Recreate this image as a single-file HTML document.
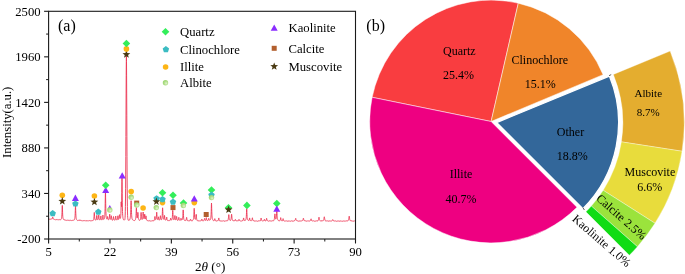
<!DOCTYPE html>
<html><head><meta charset="utf-8"><title>XRD</title>
<style>
html,body{margin:0;padding:0;background:#fff;}
body{width:685px;height:274px;overflow:hidden;font-family:"Liberation Serif",serif;}
svg{display:block;will-change:transform;transform:translateZ(0);}
text{font-family:"Liberation Serif",serif;fill:#000;}
</style></head><body>
<svg width="685" height="274" viewBox="0 0 685 274">
<rect width="685" height="274" fill="#fff"/>

<path d="M491.10,121.50 L372.14,97.30 A121.4,121.4 0 0 1 518.29,3.18 Z" fill="#f93d40" stroke="#fff" stroke-width="0.5" stroke-linejoin="round"/>
<path d="M491.10,121.50 L518.29,3.18 A121.4,121.4 0 0 1 603.10,74.65 Z" fill="#f0852a" stroke="#fff" stroke-width="0.5" stroke-linejoin="round"/>
<path d="M496.59,122.58 L609.39,76.09 A122.0,122.0 0 0 1 582.89,208.82 Z" fill="#33679a" stroke="#fff" stroke-width="1.3" stroke-linejoin="round"/>
<path d="M491.10,121.50 L576.97,207.31 A121.4,121.4 0 0 1 372.14,97.30 Z" fill="#ee0081" stroke="#fff" stroke-width="0.5" stroke-linejoin="round"/>
<path d="M613.36,74.45 L670.13,51.06 A187.7,187.7 0 0 1 682.09,151.24 L621.41,141.86 A126.3,126.3 0 0 0 613.36,74.45 Z" fill="#e4ad2f" stroke="#fff" stroke-width="0.35"/>
<path d="M621.41,141.86 L682.09,151.24 A187.7,187.7 0 0 1 655.01,223.26 L603.19,190.32 A126.3,126.3 0 0 0 621.41,141.86 Z" fill="#e8dc3c" stroke="#fff" stroke-width="0.35"/>
<path d="M603.19,190.32 L655.01,223.26 A187.7,187.7 0 0 1 637.40,246.70 L591.34,206.10 A126.3,126.3 0 0 0 603.19,190.32 Z" fill="#9be33c" stroke="#fff" stroke-width="0.35"/>
<path d="M591.34,206.10 L637.40,246.70 A187.7,187.7 0 0 1 629.36,255.26 L585.93,211.86 A126.3,126.3 0 0 0 591.34,206.10 Z" fill="#10dc14" stroke="#fff" stroke-width="0.35"/>
<path d="M609.0,75.7 L611.2,74.6 M582.9,207.6 L584.4,210.0" stroke="#3a3a3a" stroke-width="0.8" fill="none"/>
<text x="459.3" y="54.9" font-size="12" text-anchor="middle" >Quartz</text>
<text x="458.6" y="78.9" font-size="12" text-anchor="middle" >25.4%</text>
<text x="539.8" y="63.7" font-size="12" text-anchor="middle" >Clinochlore</text>
<text x="540.3" y="87.6" font-size="12" text-anchor="middle" >15.1%</text>
<text x="570.5" y="136.1" font-size="12" text-anchor="middle" >Other</text>
<text x="572.2" y="159.8" font-size="12" text-anchor="middle" >18.8%</text>
<text x="461" y="178" font-size="12" text-anchor="middle" >Illite</text>
<text x="461" y="202.5" font-size="12" text-anchor="middle" >40.7%</text>
<text x="648.3" y="96.8" font-size="11" text-anchor="middle" >Albite</text>
<text x="648.1" y="115.6" font-size="11" text-anchor="middle" >8.7%</text>
<text x="649.9" y="176.0" font-size="12" text-anchor="middle" >Muscovite</text>
<text x="649.8" y="190.8" font-size="12" text-anchor="middle" >6.6%</text>
<text font-size="12" text-anchor="middle" transform="translate(618.8,220) rotate(41.3)">Calcite 2.5%</text>
<text font-size="12" text-anchor="middle" transform="translate(599.0,243.8) rotate(40.8)">Kaolinite 1.0%</text>
<text x="366.3" y="31.2" font-size="16" text-anchor="start" >(b)</text>
<path d="M48.60,218.84 L48.70,218.77 L48.80,218.72 L48.90,218.77 L49.00,218.90 L49.10,219.06 L49.20,219.17 L49.30,219.20 L49.40,219.17 L49.50,219.15 L49.60,219.17 L49.70,219.22 L49.80,219.24 L49.90,219.20 L50.00,219.12 L50.10,219.06 L50.20,219.08 L50.30,219.17 L50.40,219.26 L50.50,219.30 L50.60,219.25 L50.70,219.14 L50.80,219.05 L50.90,219.01 L51.00,219.02 L51.10,219.01 L51.20,218.97 L51.30,218.89 L51.40,218.85 L51.50,218.90 L51.60,219.00 L51.70,219.11 L51.80,219.13 L51.90,219.05 L52.00,218.89 L52.10,218.72 L52.20,218.55 L52.30,218.34 L52.40,218.02 L52.50,217.57 L52.60,217.10 L52.70,216.89 L52.80,217.13 L52.90,217.67 L53.00,218.20 L53.10,218.57 L53.20,218.75 L53.30,218.81 L53.40,218.84 L53.50,218.91 L53.60,219.01 L53.70,219.09 L53.80,219.11 L53.90,219.11 L54.00,219.14 L54.10,219.23 L54.20,219.37 L54.30,219.50 L54.40,219.55 L54.50,219.51 L54.60,219.43 L54.70,219.40 L54.80,219.44 L54.90,219.54 L55.00,219.62 L55.10,219.65 L55.20,219.65 L55.30,219.65 L55.40,219.71 L55.50,219.81 L55.60,219.87 L55.70,219.84 L55.80,219.73 L55.90,219.58 L56.00,219.49 L56.10,219.49 L56.20,219.54 L56.30,219.58 L56.40,219.58 L56.50,219.55 L56.60,219.54 L56.70,219.59 L56.80,219.67 L56.90,219.74 L57.00,219.73 L57.10,219.65 L57.20,219.56 L57.30,219.54 L57.40,219.61 L57.50,219.73 L57.60,219.84 L57.70,219.88 L57.80,219.88 L57.90,219.89 L58.00,219.93 L58.10,219.99 L58.20,220.02 L58.30,219.97 L58.40,219.84 L58.50,219.71 L58.60,219.64 L58.70,219.67 L58.80,219.74 L58.90,219.79 L59.00,219.78 L59.10,219.73 L59.20,219.69 L59.30,219.69 L59.40,219.73 L59.50,219.74 L59.60,219.69 L59.70,219.60 L59.80,219.51 L59.90,219.50 L60.00,219.59 L60.10,219.72 L60.20,219.81 L60.30,219.83 L60.40,219.78 L60.50,219.73 L60.60,219.71 L60.70,219.70 L60.80,219.66 L60.90,219.53 L61.00,219.33 L61.10,219.12 L61.20,218.95 L61.30,218.83 L61.40,218.68 L61.50,218.39 L61.60,217.91 L61.70,217.18 L61.80,216.18 L61.90,214.78 L62.00,212.78 L62.10,210.01 L62.20,206.98 L62.30,205.46 L62.40,206.86 L62.50,209.90 L62.60,212.80 L62.70,214.98 L62.80,216.45 L62.90,217.40 L63.00,218.01 L63.10,218.43 L63.20,218.78 L63.30,219.07 L63.40,219.29 L63.50,219.41 L63.60,219.46 L63.70,219.51 L63.80,219.62 L63.90,219.77 L64.00,219.93 L64.10,220.00 L64.20,219.98 L64.30,219.89 L64.40,219.82 L64.50,219.80 L64.60,219.84 L64.70,219.86 L64.80,219.85 L64.90,219.82 L65.00,219.81 L65.10,219.89 L65.20,220.03 L65.30,220.17 L65.40,220.25 L65.50,220.23 L65.60,220.16 L65.70,220.12 L65.80,220.14 L65.90,220.21 L66.00,220.27 L66.10,220.28 L66.20,220.26 L66.30,220.25 L66.40,220.30 L66.50,220.40 L66.60,220.48 L66.70,220.47 L66.80,220.38 L66.90,220.24 L67.00,220.13 L67.10,220.10 L67.20,220.13 L67.30,220.16 L67.40,220.15 L67.50,220.11 L67.60,220.11 L67.70,220.16 L67.80,220.27 L67.90,220.36 L68.00,220.38 L68.10,220.32 L68.20,220.23 L68.30,220.19 L68.40,220.23 L68.50,220.32 L68.60,220.41 L68.70,220.45 L68.80,220.45 L68.90,220.45 L69.00,220.50 L69.10,220.58 L69.20,220.62 L69.30,220.59 L69.40,220.47 L69.50,220.32 L69.60,220.23 L69.70,220.23 L69.80,220.28 L69.90,220.33 L70.00,220.33 L70.10,220.29 L70.20,220.27 L70.30,220.29 L70.40,220.36 L70.50,220.40 L70.60,220.38 L70.70,220.30 L70.80,220.21 L70.90,220.19 L71.00,220.26 L71.10,220.39 L71.20,220.50 L71.30,220.55 L71.40,220.54 L71.50,220.53 L71.60,220.56 L71.70,220.61 L71.80,220.63 L71.90,220.57 L72.00,220.45 L72.10,220.32 L72.20,220.26 L72.30,220.30 L72.40,220.37 L72.50,220.42 L72.60,220.41 L72.70,220.33 L72.80,220.27 L72.90,220.24 L73.00,220.26 L73.10,220.26 L73.20,220.20 L73.30,220.09 L73.40,220.00 L73.50,219.99 L73.60,220.06 L73.70,220.18 L73.80,220.25 L73.90,220.23 L74.00,220.14 L74.10,220.04 L74.20,219.95 L74.30,219.88 L74.40,219.74 L74.50,219.51 L74.60,219.17 L74.70,218.75 L74.80,218.28 L74.90,217.71 L75.00,216.88 L75.10,215.55 L75.20,213.49 L75.30,210.62 L75.40,207.53 L75.50,206.05 L75.60,207.50 L75.70,210.50 L75.80,213.24 L75.90,215.19 L76.00,216.53 L76.10,217.51 L76.20,218.28 L76.30,218.89 L76.40,219.32 L76.50,219.57 L76.60,219.71 L76.70,219.81 L76.80,219.93 L76.90,220.07 L77.00,220.19 L77.10,220.24 L77.20,220.24 L77.30,220.25 L77.40,220.32 L77.50,220.44 L77.60,220.56 L77.70,220.60 L77.80,220.55 L77.90,220.43 L78.00,220.34 L78.10,220.30 L78.20,220.32 L78.30,220.35 L78.40,220.33 L78.50,220.29 L78.60,220.28 L78.70,220.34 L78.80,220.46 L78.90,220.57 L79.00,220.62 L79.10,220.57 L79.20,220.47 L79.30,220.39 L79.40,220.36 L79.50,220.38 L79.60,220.36 L79.70,220.26 L79.80,220.06 L79.90,219.87 L80.00,219.82 L80.10,220.00 L80.20,220.27 L80.30,220.43 L80.40,220.46 L80.50,220.40 L80.60,220.35 L80.70,220.36 L80.80,220.43 L80.90,220.49 L81.00,220.50 L81.10,220.48 L81.20,220.48 L81.30,220.53 L81.40,220.62 L81.50,220.70 L81.60,220.71 L81.70,220.65 L81.80,220.55 L81.90,220.51 L82.00,220.56 L82.10,220.67 L82.20,220.78 L82.30,220.83 L82.40,220.83 L82.50,220.83 L82.60,220.87 L82.70,220.94 L82.80,220.98 L82.90,220.94 L83.00,220.82 L83.10,220.68 L83.20,220.59 L83.30,220.60 L83.40,220.67 L83.50,220.72 L83.60,220.73 L83.70,220.68 L83.80,220.64 L83.90,220.65 L84.00,220.70 L84.10,220.74 L84.20,220.71 L84.30,220.62 L84.40,220.54 L84.50,220.52 L84.60,220.61 L84.70,220.75 L84.80,220.87 L84.90,220.92 L85.00,220.91 L85.10,220.90 L85.20,220.92 L85.30,220.96 L85.40,220.98 L85.50,220.93 L85.60,220.83 L85.70,220.72 L85.80,220.67 L85.90,220.72 L86.00,220.81 L86.10,220.87 L86.20,220.86 L86.30,220.79 L86.40,220.71 L86.50,220.68 L86.60,220.70 L86.70,220.71 L86.80,220.67 L86.90,220.59 L87.00,220.53 L87.10,220.55 L87.20,220.66 L87.30,220.81 L87.40,220.93 L87.50,220.96 L87.60,220.92 L87.70,220.88 L87.80,220.88 L87.90,220.92 L88.00,220.94 L88.10,220.91 L88.20,220.83 L88.30,220.77 L88.40,220.77 L88.50,220.85 L88.60,220.94 L88.70,220.99 L88.80,220.94 L88.90,220.82 L89.00,220.72 L89.10,220.67 L89.20,220.67 L89.30,220.67 L89.40,220.64 L89.50,220.58 L89.60,220.54 L89.70,220.59 L89.80,220.71 L89.90,220.84 L90.00,220.92 L90.10,220.91 L90.20,220.84 L90.30,220.78 L90.40,220.78 L90.50,220.82 L90.60,220.87 L90.70,220.87 L90.80,220.83 L90.90,220.80 L91.00,220.83 L91.10,220.91 L91.20,220.99 L91.30,220.99 L91.40,220.90 L91.50,220.75 L91.60,220.62 L91.70,220.57 L91.80,220.57 L91.90,220.58 L92.00,220.56 L92.10,220.50 L92.20,220.47 L92.30,220.50 L92.40,220.58 L92.50,220.66 L92.60,220.67 L92.70,220.59 L92.80,220.46 L92.90,220.35 L93.00,220.31 L93.10,220.33 L93.20,220.32 L93.30,220.25 L93.40,220.10 L93.50,219.90 L93.60,219.67 L93.70,219.38 L93.80,218.91 L93.90,218.11 L94.00,216.85 L94.10,215.13 L94.20,213.32 L94.30,212.48 L94.40,213.33 L94.50,215.05 L94.60,216.61 L94.70,217.70 L94.80,218.44 L94.90,218.97 L95.00,219.39 L95.10,219.69 L95.20,219.85 L95.30,219.89 L95.40,219.87 L95.50,219.88 L95.60,219.95 L95.70,220.07 L95.80,220.15 L95.90,220.15 L96.00,220.05 L96.10,219.90 L96.20,219.71 L96.30,219.44 L96.40,218.99 L96.50,218.23 L96.60,217.12 L96.70,215.92 L96.80,215.32 L96.90,215.84 L97.00,216.98 L97.10,218.02 L97.20,218.72 L97.30,219.13 L97.40,219.38 L97.50,219.56 L97.60,219.70 L97.70,219.77 L97.80,219.74 L97.90,219.61 L98.00,219.42 L98.10,219.24 L98.20,219.05 L98.30,218.77 L98.40,218.24 L98.50,217.34 L98.60,216.12 L98.70,215.10 L98.80,215.11 L98.90,216.15 L99.00,217.38 L99.10,218.29 L99.20,218.85 L99.30,219.20 L99.40,219.46 L99.50,219.71 L99.60,219.93 L99.70,220.07 L99.80,220.08 L99.90,220.00 L100.00,219.87 L100.10,219.76 L100.20,219.65 L100.30,219.46 L100.40,219.14 L100.50,218.63 L100.60,217.93 L100.70,217.06 L100.80,216.20 L100.90,215.88 L101.00,216.45 L101.10,217.43 L101.20,218.27 L101.30,218.86 L101.40,219.28 L101.50,219.59 L101.60,219.79 L101.70,219.88 L101.80,219.87 L101.90,219.82 L102.00,219.80 L102.10,219.79 L102.20,219.75 L102.30,219.57 L102.40,219.19 L102.50,218.57 L102.60,217.72 L102.70,216.66 L102.80,215.57 L102.90,215.04 L103.00,215.52 L103.10,216.52 L103.20,217.46 L103.30,218.18 L103.40,218.74 L103.50,219.15 L103.60,219.39 L103.70,219.45 L103.80,219.39 L103.90,219.30 L104.00,219.22 L104.10,219.16 L104.20,219.05 L104.30,218.84 L104.40,218.50 L104.50,218.06 L104.60,217.52 L104.70,216.82 L104.80,215.81 L104.90,214.25 L105.00,211.86 L105.10,208.32 L105.20,203.32 L105.30,197.12 L105.40,192.07 L105.50,192.10 L105.60,197.17 L105.70,203.28 L105.80,208.13 L105.90,211.55 L106.00,213.92 L106.10,215.57 L106.20,216.68 L106.30,217.39 L106.40,217.85 L106.50,218.19 L106.60,218.51 L106.70,218.81 L106.80,219.03 L106.90,219.13 L107.00,219.10 L107.10,218.96 L107.20,218.73 L107.30,218.34 L107.40,217.72 L107.50,216.95 L107.60,216.49 L107.70,216.76 L107.80,217.48 L107.90,218.21 L108.00,218.81 L108.10,219.24 L108.20,219.49 L108.30,219.60 L108.40,219.66 L108.50,219.72 L108.60,219.78 L108.70,219.80 L108.80,219.72 L108.90,219.53 L109.00,219.26 L109.10,218.95 L109.20,218.61 L109.30,218.13 L109.40,217.35 L109.50,216.16 L109.60,214.80 L109.70,214.13 L109.80,214.79 L109.90,216.18 L110.00,217.44 L110.10,218.28 L110.20,218.75 L110.30,218.99 L110.40,219.15 L110.50,219.28 L110.60,219.36 L110.70,219.33 L110.80,219.11 L110.90,218.67 L111.00,217.99 L111.10,217.09 L111.20,216.15 L111.30,215.72 L111.40,216.18 L111.50,217.10 L111.60,217.95 L111.70,218.62 L111.80,219.16 L111.90,219.62 L112.00,219.95 L112.10,220.13 L112.20,220.19 L112.30,220.21 L112.40,220.23 L112.50,220.26 L112.60,220.26 L112.70,220.17 L112.80,219.98 L112.90,219.74 L113.00,219.47 L113.10,219.15 L113.20,218.68 L113.30,217.95 L113.40,217.06 L113.50,216.55 L113.60,216.86 L113.70,217.66 L113.80,218.45 L113.90,219.03 L114.00,219.38 L114.10,219.57 L114.20,219.69 L114.30,219.83 L114.40,220.01 L114.50,220.19 L114.60,220.29 L114.70,220.28 L114.80,220.17 L114.90,220.02 L115.00,219.88 L115.10,219.72 L115.20,219.47 L115.30,219.03 L115.40,218.33 L115.50,217.38 L115.60,216.41 L115.70,216.01 L115.80,216.58 L115.90,217.58 L116.00,218.42 L116.10,218.94 L116.20,219.25 L116.30,219.47 L116.40,219.66 L116.50,219.81 L116.60,219.87 L116.70,219.87 L116.80,219.85 L116.90,219.86 L117.00,219.91 L117.10,219.94 L117.20,219.86 L117.30,219.62 L117.40,219.23 L117.50,218.70 L117.60,218.03 L117.70,217.18 L117.80,216.25 L117.90,215.79 L118.00,216.23 L118.10,217.17 L118.20,218.07 L118.30,218.76 L118.40,219.22 L118.50,219.44 L118.60,219.44 L118.70,219.30 L118.80,219.10 L118.90,218.88 L119.00,218.60 L119.10,218.16 L119.20,217.44 L119.30,216.38 L119.40,215.23 L119.50,214.69 L119.60,215.24 L119.70,216.35 L119.80,217.29 L119.90,217.86 L120.00,218.14 L120.10,218.27 L120.20,218.35 L120.30,218.38 L120.40,218.29 L120.50,218.02 L120.60,217.50 L120.70,216.68 L120.80,215.44 L120.90,213.43 L121.00,210.10 L121.10,205.30 L121.20,201.87 L121.30,203.27 L121.40,205.90 L121.50,206.61 L121.60,204.92 L121.70,200.40 L121.80,192.33 L121.90,181.68 L122.00,175.89 L122.10,182.13 L122.20,193.36 L122.30,202.26 L122.40,207.97 L122.50,211.50 L122.60,213.75 L122.70,215.29 L122.80,216.45 L122.90,217.38 L123.00,218.09 L123.10,218.59 L123.20,218.93 L123.30,219.17 L123.40,219.39 L123.50,219.60 L123.60,219.77 L123.70,219.85 L123.80,219.85 L123.90,219.81 L124.00,219.82 L124.10,219.91 L124.20,220.03 L124.30,220.12 L124.40,220.12 L124.50,220.04 L124.60,219.91 L124.70,219.78 L124.80,219.60 L124.90,219.26 L125.00,218.56 L125.10,217.29 L125.20,215.15 L125.30,211.77 L125.40,206.60 L125.50,198.97 L125.60,188.26 L125.70,174.11 L125.80,156.63 L125.90,136.52 L126.00,115.07 L126.10,93.98 L126.20,75.27 L126.30,61.52 L126.40,56.20 L126.50,61.40 L126.60,75.13 L126.70,93.95 L126.80,115.18 L126.90,136.68 L127.00,156.71 L127.10,174.05 L127.20,188.12 L127.30,198.89 L127.40,206.67 L127.50,211.97 L127.60,215.35 L127.70,217.37 L127.80,218.54 L127.90,219.25 L128.00,219.73 L128.10,220.06 L128.20,220.25 L128.30,220.31 L128.40,220.27 L128.50,220.21 L128.60,220.20 L128.70,220.25 L128.80,220.30 L128.90,220.29 L129.00,220.24 L129.10,220.18 L129.20,220.15 L129.30,220.17 L129.40,220.19 L129.50,220.12 L129.60,219.93 L129.70,219.65 L129.80,219.35 L129.90,219.08 L130.00,218.83 L130.10,218.52 L130.20,218.08 L130.30,217.46 L130.40,216.64 L130.50,215.59 L130.60,214.18 L130.70,212.18 L130.80,209.36 L130.90,205.76 L131.00,202.24 L131.10,200.66 L131.20,202.18 L131.30,205.69 L131.40,209.35 L131.50,212.27 L131.60,214.37 L131.70,215.87 L131.80,216.98 L131.90,217.84 L132.00,218.49 L132.10,218.92 L132.20,219.16 L132.30,219.28 L132.40,219.38 L132.50,219.51 L132.60,219.70 L132.70,219.87 L132.80,219.98 L132.90,220.02 L133.00,220.05 L133.10,220.11 L133.20,220.21 L133.30,220.31 L133.40,220.34 L133.50,220.30 L133.60,220.22 L133.70,220.18 L133.80,220.24 L133.90,220.36 L134.00,220.49 L134.10,220.55 L134.20,220.55 L134.30,220.53 L134.40,220.52 L134.50,220.55 L134.60,220.56 L134.70,220.49 L134.80,220.33 L134.90,220.14 L135.00,219.98 L135.10,219.90 L135.20,219.85 L135.30,219.78 L135.40,219.59 L135.50,219.29 L135.60,218.89 L135.70,218.41 L135.80,217.79 L135.90,216.92 L136.00,215.61 L136.10,213.69 L136.20,211.20 L136.30,208.70 L136.40,207.61 L136.50,208.85 L136.60,211.38 L136.70,213.77 L136.80,215.48 L136.90,216.62 L137.00,217.35 L137.10,217.82 L137.20,218.04 L137.30,217.98 L137.40,217.62 L137.50,216.94 L137.60,215.92 L137.70,214.53 L137.80,213.04 L137.90,212.37 L138.00,213.23 L138.10,214.87 L138.20,216.36 L138.30,217.47 L138.40,218.26 L138.50,218.81 L138.60,219.17 L138.70,219.37 L138.80,219.51 L138.90,219.67 L139.00,219.88 L139.10,220.10 L139.20,220.28 L139.30,220.35 L139.40,220.33 L139.50,220.28 L139.60,220.26 L139.70,220.28 L139.80,220.29 L139.90,220.25 L140.00,220.13 L140.10,219.99 L140.20,219.86 L140.30,219.76 L140.40,219.60 L140.50,219.29 L140.60,218.72 L140.70,217.82 L140.80,216.56 L140.90,214.92 L141.00,213.23 L141.10,212.43 L141.20,213.21 L141.30,214.83 L141.40,216.32 L141.50,217.45 L141.60,218.29 L141.70,218.89 L141.80,219.28 L141.90,219.46 L142.00,219.48 L142.10,219.44 L142.20,219.40 L142.30,219.35 L142.40,219.25 L142.50,219.00 L142.60,218.54 L142.70,217.85 L142.80,216.86 L142.90,215.47 L143.00,213.68 L143.10,212.15 L143.20,212.06 L143.30,213.43 L143.40,215.13 L143.50,216.51 L143.60,217.50 L143.70,218.16 L143.80,218.54 L143.90,218.70 L144.00,218.72 L144.10,218.64 L144.20,218.45 L144.30,218.05 L144.40,217.30 L144.50,216.12 L144.60,214.79 L144.70,214.13 L144.80,214.76 L144.90,216.11 L145.00,217.35 L145.10,218.22 L145.20,218.72 L145.30,218.98 L145.40,219.09 L145.50,219.06 L145.60,218.83 L145.70,218.29 L145.80,217.40 L145.90,216.37 L146.00,215.86 L146.10,216.35 L146.20,217.39 L146.30,218.38 L146.40,219.07 L146.50,219.49 L146.60,219.76 L146.70,219.98 L146.80,220.18 L146.90,220.34 L147.00,220.43 L147.10,220.43 L147.20,220.39 L147.30,220.40 L147.40,220.49 L147.50,220.65 L147.60,220.81 L147.70,220.91 L147.80,220.93 L147.90,220.93 L148.00,220.95 L148.10,221.00 L148.20,221.05 L148.30,221.03 L148.40,220.95 L148.50,220.84 L148.60,220.78 L148.70,220.80 L148.80,220.89 L148.90,220.98 L149.00,220.99 L149.10,220.93 L149.20,220.85 L149.30,220.81 L149.40,220.82 L149.50,220.84 L149.60,220.82 L149.70,220.75 L149.80,220.67 L149.90,220.67 L150.00,220.75 L150.10,220.90 L150.20,221.04 L150.30,221.09 L150.40,221.07 L150.50,221.03 L150.60,221.01 L150.70,221.04 L150.80,221.08 L150.90,221.06 L151.00,220.99 L151.10,220.92 L151.20,220.89 L151.30,220.95 L151.40,221.04 L151.50,221.11 L151.60,221.09 L151.70,220.99 L151.80,220.87 L151.90,220.79 L152.00,220.78 L152.10,220.78 L152.20,220.76 L152.30,220.70 L152.40,220.64 L152.50,220.65 L152.60,220.74 L152.70,220.88 L152.80,220.98 L152.90,220.98 L153.00,220.91 L153.10,220.83 L153.20,220.79 L153.30,220.81 L153.40,220.84 L153.50,220.83 L153.60,220.77 L153.70,220.69 L153.80,220.65 L153.90,220.67 L154.00,220.68 L154.10,220.61 L154.20,220.41 L154.30,220.09 L154.40,219.67 L154.50,219.19 L154.60,218.60 L154.70,217.82 L154.80,216.95 L154.90,216.48 L155.00,216.82 L155.10,217.66 L155.20,218.49 L155.30,219.13 L155.40,219.52 L155.50,219.68 L155.60,219.68 L155.70,219.61 L155.80,219.54 L155.90,219.47 L156.00,219.33 L156.10,219.03 L156.20,218.49 L156.30,217.66 L156.40,216.46 L156.50,214.85 L156.60,213.10 L156.70,212.22 L156.80,213.01 L156.90,214.68 L157.00,216.23 L157.10,217.39 L157.20,218.23 L157.30,218.83 L157.40,219.20 L157.50,219.40 L157.60,219.50 L157.70,219.57 L157.80,219.63 L157.90,219.62 L158.00,219.46 L158.10,219.10 L158.20,218.52 L158.30,217.78 L158.40,217.06 L158.50,216.81 L158.60,217.31 L158.70,218.15 L158.80,218.87 L158.90,219.37 L159.00,219.72 L159.10,219.98 L159.20,220.16 L159.30,220.21 L159.40,220.13 L159.50,219.98 L159.60,219.81 L159.70,219.68 L159.80,219.55 L159.90,219.33 L160.00,218.91 L160.10,218.20 L160.20,217.21 L160.30,216.18 L160.40,215.71 L160.50,216.21 L160.60,217.17 L160.70,217.99 L160.80,218.54 L160.90,218.92 L161.00,219.24 L161.10,219.53 L161.20,219.74 L161.30,219.84 L161.40,219.80 L161.50,219.68 L161.60,219.53 L161.70,219.35 L161.80,219.07 L161.90,218.62 L162.00,217.92 L162.10,216.92 L162.20,215.57 L162.30,213.75 L162.40,211.40 L162.50,208.96 L162.60,207.80 L162.70,208.88 L162.80,211.29 L162.90,213.66 L163.00,215.49 L163.10,216.79 L163.20,217.64 L163.30,218.17 L163.40,218.51 L163.50,218.77 L163.60,219.02 L163.70,219.24 L163.80,219.35 L163.90,219.29 L164.00,219.01 L164.10,218.52 L164.20,217.82 L164.30,216.89 L164.40,215.87 L164.50,215.38 L164.60,215.89 L164.70,216.95 L164.80,217.97 L164.90,218.79 L165.00,219.40 L165.10,219.81 L165.20,220.02 L165.30,220.08 L165.40,220.06 L165.50,220.05 L165.60,220.08 L165.70,220.11 L165.80,220.09 L165.90,220.00 L166.00,219.87 L166.10,219.75 L166.20,219.63 L166.30,219.44 L166.40,219.03 L166.50,218.34 L166.60,217.52 L166.70,217.09 L166.80,217.44 L166.90,218.26 L167.00,219.05 L167.10,219.61 L167.20,219.96 L167.30,220.18 L167.40,220.36 L167.50,220.55 L167.60,220.73 L167.70,220.83 L167.80,220.81 L167.90,220.71 L168.00,220.60 L168.10,220.55 L168.20,220.57 L168.30,220.62 L168.40,220.65 L168.50,220.63 L168.60,220.60 L168.70,220.61 L168.80,220.69 L168.90,220.78 L169.00,220.83 L169.10,220.78 L169.20,220.68 L169.30,220.58 L169.40,220.56 L169.50,220.61 L169.60,220.68 L169.70,220.70 L169.80,220.65 L169.90,220.56 L170.00,220.45 L170.10,220.35 L170.20,220.16 L170.30,219.80 L170.40,219.22 L170.50,218.54 L170.60,218.15 L170.70,218.33 L170.80,218.87 L170.90,219.38 L171.00,219.73 L171.10,219.90 L171.20,219.97 L171.30,220.01 L171.40,220.07 L171.50,220.10 L171.60,220.05 L171.70,219.89 L171.80,219.64 L171.90,219.38 L172.00,219.13 L172.10,218.85 L172.20,218.40 L172.30,217.64 L172.40,216.39 L172.50,214.56 L172.60,212.27 L172.70,210.42 L172.80,210.46 L172.90,212.32 L173.00,214.51 L173.10,216.18 L173.20,217.34 L173.30,218.17 L173.40,218.81 L173.50,219.27 L173.60,219.55 L173.70,219.68 L173.80,219.71 L173.90,219.72 L174.00,219.73 L174.10,219.70 L174.20,219.58 L174.30,219.32 L174.40,218.94 L174.50,218.43 L174.60,217.78 L174.70,216.92 L174.80,215.97 L174.90,215.52 L175.00,216.05 L175.10,217.10 L175.20,218.09 L175.30,218.84 L175.40,219.36 L175.50,219.66 L175.60,219.78 L175.70,219.79 L175.80,219.78 L175.90,219.78 L176.00,219.76 L176.10,219.62 L176.20,219.27 L176.30,218.63 L176.40,217.74 L176.50,216.82 L176.60,216.40 L176.70,216.84 L176.80,217.70 L176.90,218.46 L177.00,218.99 L177.10,219.39 L177.20,219.75 L177.30,220.07 L177.40,220.31 L177.50,220.43 L177.60,220.43 L177.70,220.39 L177.80,220.36 L177.90,220.36 L178.00,220.35 L178.10,220.28 L178.20,220.10 L178.30,219.83 L178.40,219.48 L178.50,219.04 L178.60,218.43 L178.70,217.73 L178.80,217.32 L178.90,217.58 L179.00,218.21 L179.10,218.83 L179.20,219.33 L179.30,219.70 L179.40,219.93 L179.50,220.05 L179.60,220.12 L179.70,220.20 L179.80,220.33 L179.90,220.47 L180.00,220.55 L180.10,220.53 L180.20,220.41 L180.30,220.26 L180.40,220.13 L180.50,220.02 L180.60,219.86 L180.70,219.55 L180.80,219.05 L180.90,218.48 L181.00,218.23 L181.10,218.54 L181.20,219.15 L181.30,219.65 L181.40,219.92 L181.50,219.99 L181.60,219.98 L181.70,219.98 L181.80,220.02 L181.90,220.06 L182.00,220.03 L182.10,219.93 L182.20,219.78 L182.30,219.61 L182.40,219.43 L182.50,219.17 L182.60,218.72 L182.70,217.97 L182.80,216.82 L182.90,215.20 L183.00,213.08 L183.10,210.86 L183.20,209.88 L183.30,211.07 L183.40,213.40 L183.50,215.53 L183.60,217.09 L183.70,218.20 L183.80,218.97 L183.90,219.47 L184.00,219.73 L184.10,219.85 L184.20,219.92 L184.30,220.04 L184.40,220.20 L184.50,220.36 L184.60,220.46 L184.70,220.48 L184.80,220.46 L184.90,220.47 L185.00,220.51 L185.10,220.57 L185.20,220.57 L185.30,220.51 L185.40,220.40 L185.50,220.33 L185.60,220.33 L185.70,220.41 L185.80,220.47 L185.90,220.45 L186.00,220.31 L186.10,220.05 L186.20,219.70 L186.30,219.22 L186.40,218.55 L186.50,217.78 L186.60,217.33 L186.70,217.59 L186.80,218.29 L186.90,219.02 L187.00,219.62 L187.10,220.06 L187.20,220.32 L187.30,220.43 L187.40,220.46 L187.50,220.49 L187.60,220.54 L187.70,220.61 L187.80,220.63 L187.90,220.60 L188.00,220.54 L188.10,220.54 L188.20,220.63 L188.30,220.79 L188.40,220.94 L188.50,221.01 L188.60,221.00 L188.70,220.95 L188.80,220.92 L188.90,220.94 L189.00,220.98 L189.10,220.98 L189.20,220.92 L189.30,220.83 L189.40,220.79 L189.50,220.82 L189.60,220.89 L189.70,220.93 L189.80,220.87 L189.90,220.70 L190.00,220.47 L190.10,220.23 L190.20,219.98 L190.30,219.68 L190.40,219.34 L190.50,219.13 L190.60,219.23 L190.70,219.57 L190.80,219.95 L190.90,220.31 L191.00,220.56 L191.10,220.69 L191.20,220.70 L191.30,220.66 L191.40,220.65 L191.50,220.70 L191.60,220.77 L191.70,220.81 L191.80,220.79 L191.90,220.75 L192.00,220.74 L192.10,220.78 L192.20,220.85 L192.30,220.87 L192.40,220.79 L192.50,220.62 L192.60,220.42 L192.70,220.27 L192.80,220.19 L192.90,220.12 L193.00,220.02 L193.10,219.84 L193.20,219.61 L193.30,219.38 L193.40,219.12 L193.50,218.79 L193.60,218.24 L193.70,217.34 L193.80,215.99 L193.90,214.11 L194.00,211.73 L194.10,209.36 L194.20,208.33 L194.30,209.51 L194.40,211.92 L194.50,214.25 L194.60,216.02 L194.70,217.31 L194.80,218.22 L194.90,218.81 L195.00,219.12 L195.10,219.23 L195.20,219.26 L195.30,219.27 L195.40,219.29 L195.50,219.26 L195.60,219.10 L195.70,218.74 L195.80,218.15 L195.90,217.30 L196.00,216.16 L196.10,214.93 L196.20,214.35 L196.30,214.96 L196.40,216.22 L196.50,217.40 L196.60,218.33 L196.70,219.05 L196.80,219.61 L196.90,220.00 L197.00,220.24 L197.10,220.39 L197.20,220.51 L197.30,220.65 L197.40,220.77 L197.50,220.83 L197.60,220.79 L197.70,220.70 L197.80,220.63 L197.90,220.64 L198.00,220.72 L198.10,220.82 L198.20,220.87 L198.30,220.85 L198.40,220.80 L198.50,220.77 L198.60,220.78 L198.70,220.82 L198.80,220.82 L198.90,220.77 L199.00,220.68 L199.10,220.64 L199.20,220.70 L199.30,220.83 L199.40,220.98 L199.50,221.07 L199.60,221.08 L199.70,221.05 L199.80,221.03 L199.90,221.05 L200.00,221.09 L200.10,221.08 L200.20,221.01 L200.30,220.91 L200.40,220.84 L200.50,220.85 L200.60,220.93 L200.70,221.00 L200.80,221.00 L200.90,220.91 L201.00,220.77 L201.10,220.65 L201.20,220.58 L201.30,220.50 L201.40,220.38 L201.50,220.15 L201.60,219.83 L201.70,219.47 L201.80,219.17 L201.90,219.13 L202.00,219.44 L202.10,219.87 L202.20,220.18 L202.30,220.37 L202.40,220.50 L202.50,220.63 L202.60,220.75 L202.70,220.82 L202.80,220.82 L202.90,220.79 L203.00,220.78 L203.10,220.84 L203.20,220.94 L203.30,221.00 L203.40,220.97 L203.50,220.84 L203.60,220.67 L203.70,220.54 L203.80,220.45 L203.90,220.39 L204.00,220.27 L204.10,220.06 L204.20,219.77 L204.30,219.40 L204.40,218.98 L204.50,218.55 L204.60,218.38 L204.70,218.65 L204.80,219.11 L204.90,219.51 L205.00,219.81 L205.10,220.08 L205.20,220.29 L205.30,220.41 L205.40,220.44 L205.50,220.41 L205.60,220.36 L205.70,220.31 L205.80,220.22 L205.90,219.99 L206.00,219.51 L206.10,218.79 L206.20,218.01 L206.30,217.62 L206.40,217.93 L206.50,218.61 L206.60,219.23 L206.70,219.64 L206.80,219.90 L206.90,220.09 L207.00,220.28 L207.10,220.46 L207.20,220.57 L207.30,220.59 L207.40,220.52 L207.50,220.44 L207.60,220.42 L207.70,220.48 L207.80,220.56 L207.90,220.59 L208.00,220.54 L208.10,220.42 L208.20,220.27 L208.30,220.08 L208.40,219.79 L208.50,219.31 L208.60,218.71 L208.70,218.31 L208.80,218.42 L208.90,218.87 L209.00,219.36 L209.10,219.76 L209.20,220.01 L209.30,220.13 L209.40,220.15 L209.50,220.17 L209.60,220.21 L209.70,220.25 L209.80,220.23 L209.90,220.13 L210.00,219.96 L210.10,219.81 L210.20,219.71 L210.30,219.67 L210.40,219.61 L210.50,219.45 L210.60,219.14 L210.70,218.67 L210.80,218.04 L210.90,217.21 L211.00,216.03 L211.10,214.26 L211.20,211.66 L211.30,208.21 L211.40,204.71 L211.50,203.11 L211.60,204.77 L211.70,208.27 L211.80,211.64 L211.90,214.12 L212.00,215.81 L212.10,216.98 L212.20,217.84 L212.30,218.47 L212.40,218.92 L212.50,219.20 L212.60,219.39 L212.70,219.55 L212.80,219.77 L212.90,220.03 L213.00,220.28 L213.10,220.45 L213.20,220.52 L213.30,220.53 L213.40,220.54 L213.50,220.59 L213.60,220.66 L213.70,220.68 L213.80,220.63 L213.90,220.53 L214.00,220.46 L214.10,220.45 L214.20,220.47 L214.30,220.43 L214.40,220.26 L214.50,219.90 L214.60,219.39 L214.70,218.87 L214.80,218.65 L214.90,218.87 L215.00,219.31 L215.10,219.68 L215.20,219.92 L215.30,220.12 L215.40,220.33 L215.50,220.57 L215.60,220.76 L215.70,220.86 L215.80,220.86 L215.90,220.82 L216.00,220.80 L216.10,220.84 L216.20,220.92 L216.30,220.96 L216.40,220.95 L216.50,220.92 L216.60,220.92 L216.70,220.97 L216.80,221.07 L216.90,221.13 L217.00,221.11 L217.10,220.99 L217.20,220.84 L217.30,220.73 L217.40,220.69 L217.50,220.70 L217.60,220.69 L217.70,220.63 L217.80,220.55 L217.90,220.50 L218.00,220.50 L218.10,220.52 L218.20,220.47 L218.30,220.27 L218.40,219.91 L218.50,219.38 L218.60,218.76 L218.70,218.16 L218.80,217.94 L218.90,218.32 L219.00,218.98 L219.10,219.57 L219.20,220.01 L219.30,220.36 L219.40,220.64 L219.50,220.82 L219.60,220.86 L219.70,220.79 L219.80,220.70 L219.90,220.66 L220.00,220.70 L220.10,220.78 L220.20,220.84 L220.30,220.84 L220.40,220.81 L220.50,220.81 L220.60,220.87 L220.70,220.95 L220.80,221.00 L220.90,220.97 L221.00,220.88 L221.10,220.80 L221.20,220.80 L221.30,220.88 L221.40,221.01 L221.50,221.11 L221.60,221.14 L221.70,221.14 L221.80,221.14 L221.90,221.18 L222.00,221.24 L222.10,221.25 L222.20,221.18 L222.30,221.05 L222.40,220.93 L222.50,220.88 L222.60,220.93 L222.70,221.01 L222.80,221.05 L222.90,221.03 L223.00,220.97 L223.10,220.92 L223.20,220.93 L223.30,220.96 L223.40,220.97 L223.50,220.91 L223.60,220.82 L223.70,220.76 L223.80,220.79 L223.90,220.91 L224.00,221.05 L224.10,221.15 L224.20,221.17 L224.30,221.14 L224.40,221.12 L224.50,221.14 L224.60,221.18 L224.70,221.18 L224.80,221.11 L224.90,221.00 L225.00,220.92 L225.10,220.92 L225.20,221.00 L225.30,221.09 L225.40,221.11 L225.50,221.06 L225.60,220.96 L225.70,220.87 L225.80,220.85 L225.90,220.85 L226.00,220.84 L226.10,220.78 L226.20,220.69 L226.30,220.65 L226.40,220.70 L226.50,220.83 L226.60,220.96 L226.70,221.02 L226.80,220.99 L226.90,220.91 L227.00,220.85 L227.10,220.84 L227.20,220.85 L227.30,220.83 L227.40,220.75 L227.50,220.63 L227.60,220.53 L227.70,220.48 L227.80,220.47 L227.90,220.41 L228.00,220.23 L228.10,219.90 L228.20,219.44 L228.30,218.87 L228.40,218.20 L228.50,217.33 L228.60,216.25 L228.70,215.16 L228.80,214.64 L228.90,215.09 L229.00,216.19 L229.10,217.39 L229.20,218.37 L229.30,219.03 L229.40,219.43 L229.50,219.66 L229.60,219.83 L229.70,220.02 L229.80,220.20 L229.90,220.32 L230.00,220.37 L230.10,220.37 L230.20,220.37 L230.30,220.41 L230.40,220.47 L230.50,220.46 L230.60,220.34 L230.70,220.09 L230.80,219.76 L230.90,219.42 L231.00,219.05 L231.10,218.59 L231.20,217.93 L231.30,216.96 L231.40,215.74 L231.50,214.60 L231.60,214.16 L231.70,214.77 L231.80,215.99 L231.90,217.17 L232.00,218.05 L232.10,218.66 L232.20,219.14 L232.30,219.56 L232.40,219.93 L232.50,220.21 L232.60,220.39 L232.70,220.50 L232.80,220.59 L232.90,220.72 L233.00,220.84 L233.10,220.92 L233.20,220.90 L233.30,220.79 L233.40,220.68 L233.50,220.63 L233.60,220.66 L233.70,220.74 L233.80,220.79 L233.90,220.78 L234.00,220.74 L234.10,220.71 L234.20,220.74 L234.30,220.78 L234.40,220.80 L234.50,220.73 L234.60,220.61 L234.70,220.48 L234.80,220.41 L234.90,220.40 L235.00,220.38 L235.10,220.25 L235.20,219.96 L235.30,219.59 L235.40,219.42 L235.50,219.62 L235.60,220.02 L235.70,220.36 L235.80,220.53 L235.90,220.57 L236.00,220.57 L236.10,220.62 L236.20,220.73 L236.30,220.86 L236.40,220.93 L236.50,220.93 L236.60,220.87 L236.70,220.82 L236.80,220.82 L236.90,220.85 L237.00,220.86 L237.10,220.81 L237.20,220.72 L237.30,220.67 L237.40,220.70 L237.50,220.82 L237.60,220.97 L237.70,221.06 L237.80,221.06 L237.90,221.01 L238.00,220.95 L238.10,220.94 L238.20,220.94 L238.30,220.89 L238.40,220.76 L238.50,220.55 L238.60,220.32 L238.70,220.08 L238.80,219.82 L238.90,219.54 L239.00,219.39 L239.10,219.51 L239.20,219.77 L239.30,220.02 L239.40,220.24 L239.50,220.42 L239.60,220.53 L239.70,220.57 L239.80,220.56 L239.90,220.58 L240.00,220.67 L240.10,220.82 L240.20,220.98 L240.30,221.06 L240.40,221.05 L240.50,220.99 L240.60,220.95 L240.70,220.96 L240.80,221.02 L240.90,221.05 L241.00,221.03 L241.10,220.98 L241.20,220.96 L241.30,221.00 L241.40,221.09 L241.50,221.16 L241.60,221.15 L241.70,221.05 L241.80,220.90 L241.90,220.78 L242.00,220.73 L242.10,220.73 L242.20,220.73 L242.30,220.68 L242.40,220.61 L242.50,220.57 L242.60,220.59 L242.70,220.65 L242.80,220.67 L242.90,220.60 L243.00,220.39 L243.10,220.10 L243.20,219.75 L243.30,219.34 L243.40,218.82 L243.50,218.24 L243.60,217.94 L243.70,218.23 L243.80,218.86 L243.90,219.50 L244.00,220.01 L244.10,220.34 L244.20,220.49 L244.30,220.48 L244.40,220.42 L244.50,220.37 L244.60,220.39 L244.70,220.45 L244.80,220.49 L244.90,220.47 L245.00,220.41 L245.10,220.37 L245.20,220.37 L245.30,220.39 L245.40,220.37 L245.50,220.26 L245.60,220.04 L245.70,219.79 L245.80,219.55 L245.90,219.33 L246.00,219.05 L246.10,218.58 L246.20,217.81 L246.30,216.60 L246.40,214.84 L246.50,212.46 L246.60,209.90 L246.70,208.66 L246.80,209.86 L246.90,212.34 L247.00,214.63 L247.10,216.33 L247.20,217.56 L247.30,218.44 L247.40,219.05 L247.50,219.44 L247.60,219.67 L247.70,219.84 L247.80,220.01 L247.90,220.17 L248.00,220.29 L248.10,220.31 L248.20,220.27 L248.30,220.23 L248.40,220.27 L248.50,220.38 L248.60,220.52 L248.70,220.61 L248.80,220.60 L248.90,220.51 L249.00,220.38 L249.10,220.23 L249.20,220.01 L249.30,219.62 L249.40,219.01 L249.50,218.31 L249.60,217.93 L249.70,218.21 L249.80,218.88 L249.90,219.54 L250.00,219.99 L250.10,220.24 L250.20,220.34 L250.30,220.39 L250.40,220.46 L250.50,220.53 L250.60,220.58 L250.70,220.56 L250.80,220.50 L250.90,220.47 L251.00,220.52 L251.10,220.64 L251.20,220.78 L251.30,220.85 L251.40,220.83 L251.50,220.73 L251.60,220.62 L251.70,220.53 L251.80,220.43 L251.90,220.24 L252.00,219.90 L252.10,219.37 L252.20,218.69 L252.30,218.03 L252.40,217.79 L252.50,218.22 L252.60,218.93 L252.70,219.50 L252.80,219.84 L252.90,220.05 L253.00,220.22 L253.10,220.38 L253.20,220.49 L253.30,220.53 L253.40,220.54 L253.50,220.56 L253.60,220.66 L253.70,220.82 L253.80,220.97 L253.90,221.04 L254.00,221.03 L254.10,220.96 L254.20,220.92 L254.30,220.94 L254.40,221.01 L254.50,221.07 L254.60,221.07 L254.70,221.05 L254.80,221.04 L254.90,221.09 L255.00,221.18 L255.10,221.26 L255.20,221.25 L255.30,221.14 L255.40,221.00 L255.50,220.89 L255.60,220.86 L255.70,220.88 L255.80,220.91 L255.90,220.89 L256.00,220.85 L256.10,220.84 L256.20,220.90 L256.30,221.00 L256.40,221.09 L256.50,221.10 L256.60,221.03 L256.70,220.94 L256.80,220.90 L256.90,220.94 L257.00,221.03 L257.10,221.11 L257.20,221.15 L257.30,221.14 L257.40,221.14 L257.50,221.18 L257.60,221.26 L257.70,221.30 L257.80,221.25 L257.90,221.12 L258.00,220.97 L258.10,220.88 L258.20,220.88 L258.30,220.93 L258.40,220.97 L258.50,220.96 L258.60,220.92 L258.70,220.89 L258.80,220.91 L258.90,220.97 L259.00,221.01 L259.10,220.97 L259.20,220.88 L259.30,220.78 L259.40,220.75 L259.50,220.82 L259.60,220.93 L259.70,221.02 L259.80,221.05 L259.90,221.01 L260.00,220.97 L260.10,220.96 L260.20,220.96 L260.30,220.91 L260.40,220.75 L260.50,220.48 L260.60,220.16 L260.70,219.81 L260.80,219.42 L260.90,218.90 L261.00,218.31 L261.10,217.99 L261.20,218.23 L261.30,218.82 L261.40,219.40 L261.50,219.86 L261.60,220.17 L261.70,220.32 L261.80,220.37 L261.90,220.40 L262.00,220.49 L262.10,220.65 L262.20,220.84 L262.30,220.98 L262.40,221.03 L262.50,221.02 L262.60,221.00 L262.70,221.02 L262.80,221.07 L262.90,221.08 L263.00,221.03 L263.10,220.93 L263.20,220.85 L263.30,220.83 L263.40,220.89 L263.50,220.96 L263.60,220.97 L263.70,220.88 L263.80,220.71 L263.90,220.52 L264.00,220.34 L264.10,220.14 L264.20,219.85 L264.30,219.49 L264.40,219.27 L264.50,219.38 L264.60,219.73 L264.70,220.14 L264.80,220.49 L264.90,220.72 L265.00,220.80 L265.10,220.80 L265.20,220.78 L265.30,220.80 L265.40,220.85 L265.50,220.88 L265.60,220.84 L265.70,220.75 L265.80,220.67 L265.90,220.62 L266.00,220.60 L266.10,220.53 L266.20,220.30 L266.30,219.86 L266.40,219.23 L266.50,218.58 L266.60,218.27 L266.70,218.54 L266.80,219.10 L266.90,219.57 L267.00,219.89 L267.10,220.12 L267.20,220.35 L267.30,220.58 L267.40,220.78 L267.50,220.89 L267.60,220.89 L267.70,220.84 L267.80,220.81 L267.90,220.85 L268.00,220.94 L268.10,221.02 L268.20,221.04 L268.30,221.03 L268.40,221.03 L268.50,221.09 L268.60,221.18 L268.70,221.24 L268.80,221.23 L268.90,221.12 L269.00,220.97 L269.10,220.86 L269.20,220.83 L269.30,220.87 L269.40,220.90 L269.50,220.90 L269.60,220.86 L269.70,220.84 L269.80,220.88 L269.90,220.97 L270.00,221.04 L270.10,221.04 L270.20,220.96 L270.30,220.86 L270.40,220.82 L270.50,220.87 L270.60,220.97 L270.70,221.07 L270.80,221.11 L270.90,221.10 L271.00,221.10 L271.10,221.13 L271.20,221.19 L271.30,221.22 L271.40,221.17 L271.50,221.04 L271.60,220.89 L271.70,220.81 L271.80,220.81 L271.90,220.87 L272.00,220.91 L272.10,220.90 L272.20,220.84 L272.30,220.79 L272.40,220.79 L272.50,220.82 L272.60,220.84 L272.70,220.79 L272.80,220.68 L272.90,220.57 L273.00,220.54 L273.10,220.59 L273.20,220.70 L273.30,220.78 L273.40,220.78 L273.50,220.71 L273.60,220.63 L273.70,220.57 L273.80,220.51 L273.90,220.40 L274.00,220.19 L274.10,219.86 L274.20,219.47 L274.30,219.06 L274.40,218.58 L274.50,217.94 L274.60,217.00 L274.70,215.76 L274.80,214.49 L274.90,213.87 L275.00,214.32 L275.10,215.46 L275.20,216.62 L275.30,217.49 L275.40,218.05 L275.50,218.41 L275.60,218.70 L275.70,218.94 L275.80,219.12 L275.90,219.16 L276.00,219.01 L276.10,218.68 L276.20,218.18 L276.30,217.50 L276.40,216.55 L276.50,215.19 L276.60,213.44 L276.70,211.70 L276.80,210.91 L276.90,211.68 L277.00,213.47 L277.10,215.33 L277.20,216.80 L277.30,217.79 L277.40,218.43 L277.50,218.87 L277.60,219.22 L277.70,219.51 L277.80,219.74 L277.90,219.88 L278.00,219.96 L278.10,220.04 L278.20,220.17 L278.30,220.37 L278.40,220.56 L278.50,220.69 L278.60,220.71 L278.70,220.68 L278.80,220.64 L278.90,220.67 L279.00,220.73 L279.10,220.79 L279.20,220.80 L279.30,220.76 L279.40,220.73 L279.50,220.75 L279.60,220.82 L279.70,220.87 L279.80,220.83 L279.90,220.68 L280.00,220.44 L280.10,220.19 L280.20,219.95 L280.30,219.67 L280.40,219.26 L280.50,218.66 L280.60,217.98 L280.70,217.65 L280.80,218.01 L280.90,218.76 L281.00,219.46 L281.10,219.92 L281.20,220.16 L281.30,220.27 L281.40,220.35 L281.50,220.46 L281.60,220.61 L281.70,220.74 L281.80,220.80 L281.90,220.80 L282.00,220.80 L282.10,220.84 L282.20,220.89 L282.30,220.91 L282.40,220.82 L282.50,220.61 L282.60,220.32 L282.70,220.01 L282.80,219.67 L282.90,219.28 L283.00,218.85 L283.10,218.63 L283.20,218.83 L283.30,219.28 L283.40,219.75 L283.50,220.15 L283.60,220.43 L283.70,220.57 L283.80,220.60 L283.90,220.58 L284.00,220.60 L284.10,220.70 L284.20,220.85 L284.30,220.99 L284.40,221.06 L284.50,221.08 L284.60,221.08 L284.70,221.12 L284.80,221.19 L284.90,221.23 L285.00,221.19 L285.10,221.07 L285.20,220.95 L285.30,220.88 L285.40,220.90 L285.50,220.98 L285.60,221.05 L285.70,221.05 L285.80,221.00 L285.90,220.94 L286.00,220.94 L286.10,220.97 L286.20,220.99 L286.30,220.96 L286.40,220.87 L286.50,220.80 L286.60,220.80 L286.70,220.89 L286.80,221.04 L286.90,221.16 L287.00,221.21 L287.10,221.19 L287.20,221.17 L287.30,221.18 L287.40,221.22 L287.50,221.24 L287.60,221.19 L287.70,221.10 L287.80,221.00 L287.90,220.98 L288.00,221.04 L288.10,221.13 L288.20,221.19 L288.30,221.16 L288.40,221.08 L288.50,220.99 L288.60,220.95 L288.70,220.95 L288.80,220.95 L288.90,220.92 L289.00,220.84 L289.10,220.79 L289.20,220.82 L289.30,220.94 L289.40,221.09 L289.50,221.20 L289.60,221.21 L289.70,221.16 L289.80,221.11 L289.90,221.11 L290.00,221.15 L290.10,221.18 L290.20,221.16 L290.30,221.10 L290.40,221.05 L290.50,221.06 L290.60,221.14 L290.70,221.24 L290.80,221.27 L290.90,221.21 L291.00,221.08 L291.10,220.96 L291.20,220.91 L291.30,220.91 L291.40,220.92 L291.50,220.89 L291.60,220.84 L291.70,220.81 L291.80,220.86 L291.90,220.97 L292.00,221.10 L292.10,221.16 L292.20,221.13 L292.30,221.05 L292.40,220.99 L292.50,220.99 L292.60,221.04 L292.70,221.10 L292.80,221.12 L292.90,221.09 L293.00,221.07 L293.10,221.10 L293.20,221.18 L293.30,221.25 L293.40,221.24 L293.50,221.13 L293.60,220.98 L293.70,220.85 L293.80,220.79 L293.90,220.80 L294.00,220.82 L294.10,220.79 L294.20,220.73 L294.30,220.69 L294.40,220.69 L294.50,220.74 L294.60,220.78 L294.70,220.74 L294.80,220.60 L294.90,220.40 L295.00,220.21 L295.10,220.06 L295.20,219.92 L295.30,219.70 L295.40,219.34 L295.50,218.87 L295.60,218.46 L295.70,218.32 L295.80,218.56 L295.90,219.02 L296.00,219.45 L296.10,219.74 L296.20,219.91 L296.30,220.05 L296.40,220.22 L296.50,220.40 L296.60,220.56 L296.70,220.64 L296.80,220.67 L296.90,220.68 L297.00,220.72 L297.10,220.81 L297.20,220.88 L297.30,220.88 L297.40,220.82 L297.50,220.74 L297.60,220.72 L297.70,220.80 L297.80,220.94 L297.90,221.07 L298.00,221.13 L298.10,221.14 L298.20,221.13 L298.30,221.15 L298.40,221.20 L298.50,221.23 L298.60,221.19 L298.70,221.08 L298.80,220.96 L298.90,220.91 L299.00,220.94 L299.10,221.03 L299.20,221.09 L299.30,221.09 L299.40,221.02 L299.50,220.95 L299.60,220.93 L299.70,220.94 L299.80,220.96 L299.90,220.92 L300.00,220.84 L300.10,220.76 L300.20,220.77 L300.30,220.87 L300.40,221.02 L300.50,221.13 L300.60,221.17 L300.70,221.14 L300.80,221.10 L300.90,221.09 L301.00,221.12 L301.10,221.14 L301.20,221.10 L301.30,221.01 L301.40,220.92 L301.50,220.90 L301.60,220.95 L301.70,221.04 L301.80,221.07 L301.90,221.02 L302.00,220.89 L302.10,220.75 L302.20,220.66 L302.30,220.61 L302.40,220.55 L302.50,220.44 L302.60,220.28 L302.70,220.10 L302.80,219.96 L302.90,219.83 L303.00,219.66 L303.10,219.35 L303.20,218.89 L303.30,218.42 L303.40,218.19 L303.50,218.36 L303.60,218.81 L303.70,219.32 L303.80,219.72 L303.90,220.00 L304.00,220.20 L304.10,220.40 L304.20,220.62 L304.30,220.81 L304.40,220.91 L304.50,220.90 L304.60,220.81 L304.70,220.73 L304.80,220.70 L304.90,220.73 L305.00,220.77 L305.10,220.78 L305.20,220.75 L305.30,220.74 L305.40,220.79 L305.50,220.91 L305.60,221.03 L305.70,221.09 L305.80,221.06 L305.90,220.97 L306.00,220.91 L306.10,220.92 L306.20,221.00 L306.30,221.08 L306.40,221.12 L306.50,221.11 L306.60,221.10 L306.70,221.14 L306.80,221.22 L306.90,221.29 L307.00,221.28 L307.10,221.18 L307.20,221.02 L307.30,220.90 L307.40,220.87 L307.50,220.90 L307.60,220.94 L307.70,220.95 L307.80,220.91 L307.90,220.88 L308.00,220.90 L308.10,220.98 L308.20,221.05 L308.30,221.05 L308.40,220.98 L308.50,220.88 L308.60,220.82 L308.70,220.86 L308.80,220.96 L308.90,221.06 L309.00,221.12 L309.10,221.11 L309.20,221.10 L309.30,221.11 L309.40,221.16 L309.50,221.18 L309.60,221.13 L309.70,220.99 L309.80,220.82 L309.90,220.70 L310.00,220.65 L310.10,220.66 L310.20,220.65 L310.30,220.56 L310.40,220.39 L310.50,220.16 L310.60,219.93 L310.70,219.67 L310.80,219.36 L310.90,219.04 L311.00,218.84 L311.10,218.87 L311.20,219.15 L311.30,219.56 L311.40,219.99 L311.50,220.35 L311.60,220.58 L311.70,220.70 L311.80,220.78 L311.90,220.86 L312.00,220.95 L312.10,221.02 L312.20,221.02 L312.30,220.95 L312.40,220.87 L312.50,220.84 L312.60,220.90 L312.70,221.00 L312.80,221.08 L312.90,221.08 L313.00,221.01 L313.10,220.93 L313.20,220.89 L313.30,220.90 L313.40,220.92 L313.50,220.89 L313.60,220.82 L313.70,220.76 L313.80,220.77 L313.90,220.88 L314.00,221.03 L314.10,221.15 L314.20,221.18 L314.30,221.15 L314.40,221.10 L314.50,221.09 L314.60,221.13 L314.70,221.16 L314.80,221.14 L314.90,221.07 L315.00,221.01 L315.10,221.01 L315.20,221.08 L315.30,221.17 L315.40,221.22 L315.50,221.18 L315.60,221.06 L315.70,220.94 L315.80,220.87 L315.90,220.87 L316.00,220.87 L316.10,220.85 L316.20,220.79 L316.30,220.75 L316.40,220.77 L316.50,220.88 L316.60,221.01 L316.70,221.08 L316.80,221.07 L316.90,220.98 L317.00,220.90 L317.10,220.88 L317.20,220.91 L317.30,220.95 L317.40,220.95 L317.50,220.89 L317.60,220.83 L317.70,220.82 L317.80,220.85 L317.90,220.87 L318.00,220.81 L318.10,220.63 L318.20,220.35 L318.30,220.05 L318.40,219.77 L318.50,219.47 L318.60,219.09 L318.70,218.57 L318.80,217.94 L318.90,217.40 L319.00,217.21 L319.10,217.52 L319.20,218.14 L319.30,218.77 L319.40,219.24 L319.50,219.55 L319.60,219.79 L319.70,220.03 L319.80,220.28 L319.90,220.50 L320.00,220.65 L320.10,220.73 L320.20,220.78 L320.30,220.86 L320.40,220.97 L320.50,221.06 L320.60,221.07 L320.70,220.98 L320.80,220.85 L320.90,220.75 L321.00,220.73 L321.10,220.78 L321.20,220.84 L321.30,220.86 L321.40,220.83 L321.50,220.79 L321.60,220.80 L321.70,220.86 L321.80,220.91 L321.90,220.91 L322.00,220.83 L322.10,220.72 L322.20,220.67 L322.30,220.71 L322.40,220.81 L322.50,220.92 L322.60,220.96 L322.70,220.94 L322.80,220.90 L322.90,220.88 L323.00,220.89 L323.10,220.87 L323.20,220.77 L323.30,220.57 L323.40,220.33 L323.50,220.10 L323.60,219.92 L323.70,219.74 L323.80,219.47 L323.90,219.02 L324.00,218.37 L324.10,217.64 L324.20,217.02 L324.30,216.79 L324.40,217.06 L324.50,217.63 L324.60,218.22 L324.70,218.73 L324.80,219.18 L324.90,219.61 L325.00,220.01 L325.10,220.34 L325.20,220.54 L325.30,220.64 L325.40,220.70 L325.50,220.76 L325.60,220.86 L325.70,220.93 L325.80,220.94 L325.90,220.89 L326.00,220.82 L326.10,220.81 L326.20,220.88 L326.30,221.00 L326.40,221.08 L326.50,221.08 L326.60,221.00 L326.70,220.91 L326.80,220.86 L326.90,220.86 L327.00,220.88 L327.10,220.85 L327.20,220.79 L327.30,220.74 L327.40,220.77 L327.50,220.88 L327.60,221.03 L327.70,221.14 L327.80,221.17 L327.90,221.13 L328.00,221.07 L328.10,221.06 L328.20,221.09 L328.30,221.14 L328.40,221.14 L328.50,221.09 L328.60,221.04 L328.70,221.05 L328.80,221.13 L328.90,221.23 L329.00,221.27 L329.10,221.22 L329.20,221.09 L329.30,220.96 L329.40,220.90 L329.50,220.89 L329.60,220.91 L329.70,220.90 L329.80,220.85 L329.90,220.82 L330.00,220.85 L330.10,220.95 L330.20,221.07 L330.30,221.14 L330.40,221.12 L330.50,221.04 L330.60,220.96 L330.70,220.95 L330.80,221.00 L330.90,221.07 L331.00,221.10 L331.10,221.08 L331.20,221.05 L331.30,221.07 L331.40,221.13 L331.50,221.19 L331.60,221.18 L331.70,221.07 L331.80,220.89 L331.90,220.72 L332.00,220.61 L332.10,220.57 L332.20,220.51 L332.30,220.40 L332.40,220.20 L332.50,219.96 L332.60,219.74 L332.70,219.61 L332.80,219.61 L332.90,219.72 L333.00,219.88 L333.10,220.02 L333.20,220.16 L333.30,220.35 L333.40,220.57 L333.50,220.77 L333.60,220.90 L333.70,220.96 L333.80,220.99 L333.90,221.05 L334.00,221.14 L334.10,221.21 L334.20,221.21 L334.30,221.11 L334.40,220.98 L334.50,220.88 L334.60,220.87 L334.70,220.93 L334.80,221.00 L334.90,221.02 L335.00,220.99 L335.10,220.95 L335.20,220.94 L335.30,220.99 L335.40,221.03 L335.50,221.02 L335.60,220.95 L335.70,220.86 L335.80,220.82 L335.90,220.88 L336.00,221.01 L336.10,221.14 L336.20,221.22 L336.30,221.22 L336.40,221.20 L336.50,221.21 L336.60,221.25 L336.70,221.28 L336.80,221.25 L336.90,221.16 L337.00,221.04 L337.10,220.97 L337.20,221.00 L337.30,221.08 L337.40,221.16 L337.50,221.16 L337.60,221.10 L337.70,221.02 L337.80,220.98 L337.90,220.98 L338.00,221.00 L338.10,220.97 L338.20,220.90 L338.30,220.82 L338.40,220.82 L338.50,220.91 L338.60,221.06 L338.70,221.19 L338.80,221.24 L338.90,221.22 L339.00,221.17 L339.10,221.16 L339.20,221.19 L339.30,221.22 L339.40,221.21 L339.50,221.14 L339.60,221.06 L339.70,221.04 L339.80,221.10 L339.90,221.20 L340.00,221.26 L340.10,221.24 L340.20,221.14 L340.30,221.02 L340.40,220.95 L340.50,220.94 L340.60,220.95 L340.70,220.93 L340.80,220.88 L340.90,220.83 L341.00,220.85 L341.10,220.95 L341.20,221.09 L341.30,221.20 L341.40,221.21 L341.50,221.15 L341.60,221.08 L341.70,221.06 L341.80,221.10 L341.90,221.16 L342.00,221.17 L342.10,221.14 L342.20,221.11 L342.30,221.12 L342.40,221.19 L342.50,221.29 L342.60,221.32 L342.70,221.26 L342.80,221.12 L342.90,220.99 L343.00,220.92 L343.10,220.92 L343.20,220.94 L343.30,220.94 L343.40,220.90 L343.50,220.87 L343.60,220.89 L343.70,220.99 L343.80,221.10 L343.90,221.16 L344.00,221.12 L344.10,221.03 L344.20,220.96 L344.30,220.95 L344.40,221.02 L344.50,221.11 L344.60,221.16 L344.70,221.16 L344.80,221.14 L344.90,221.17 L345.00,221.24 L345.10,221.30 L345.20,221.30 L345.30,221.21 L345.40,221.06 L345.50,220.93 L345.60,220.87 L345.70,220.90 L345.80,220.95 L345.90,220.96 L346.00,220.93 L346.10,220.89 L346.20,220.89 L346.30,220.94 L346.40,221.01 L346.50,221.01 L346.60,220.94 L346.70,220.83 L346.80,220.76 L346.90,220.78 L347.00,220.88 L347.10,220.98 L347.20,221.04 L347.30,221.03 L347.40,221.00 L347.50,220.99 L347.60,221.01 L347.70,221.02 L347.80,220.95 L347.90,220.80 L348.00,220.60 L348.10,220.42 L348.20,220.31 L348.30,220.24 L348.40,220.15 L348.50,219.95 L348.60,219.61 L348.70,219.15 L348.80,218.60 L348.90,217.95 L349.00,217.21 L349.10,216.52 L349.20,216.16 L349.30,216.35 L349.40,217.00 L349.50,217.83 L349.60,218.64 L349.70,219.31 L349.80,219.78 L349.90,220.07 L350.00,220.26 L350.10,220.42 L350.20,220.59 L350.30,220.72 L350.40,220.78 L350.50,220.76 L350.60,220.71 L350.70,220.70 L350.80,220.77 L350.90,220.89 L351.00,220.99 L351.10,221.02 L351.20,220.96 L351.30,220.88 L351.40,220.84 L351.50,220.84 L351.60,220.86 L351.70,220.85 L351.80,220.79 L351.90,220.74 L352.00,220.74 L352.10,220.84 L352.20,221.00 L352.30,221.13 L352.40,221.18 L352.50,221.15 L352.60,221.09 L352.70,221.08 L352.80,221.11 L352.90,221.15 L353.00,221.16 L353.10,221.11 L353.20,221.05 L353.30,221.04 L353.40,221.11 L353.50,221.21 L353.60,221.27 L353.70,221.24 L353.80,221.13 L353.90,221.00 L354.00,220.93 L354.10,220.92 L354.20,220.93 L354.30,220.92 L354.40,220.88 L354.50,220.84 L354.60,220.86 L354.70,220.96 L354.80,221.09 L354.90,221.18 L355.00,221.19 L355.10,221.12 L355.20,221.04 L355.30,221.02 L355.40,221.07 L355.50,221.14" fill="none" stroke="#ec3553" stroke-width="0.9" stroke-linejoin="round"/>
<rect x="48.6" y="11.3" width="306.9" height="227.7" fill="none" stroke="#1a1a1a" stroke-width="1.1"/>
<line x1="44.1" y1="11.30" x2="48.6" y2="11.30" stroke="#1a1a1a" stroke-width="1.1"/>
<text x="40.6" y="15.50" font-size="12.7" text-anchor="end">2500</text>
<line x1="46.1" y1="34.07" x2="48.6" y2="34.07" stroke="#1a1a1a" stroke-width="1"/>
<line x1="44.1" y1="56.84" x2="48.6" y2="56.84" stroke="#1a1a1a" stroke-width="1.1"/>
<text x="40.6" y="61.04" font-size="12.7" text-anchor="end">1960</text>
<line x1="46.1" y1="79.61" x2="48.6" y2="79.61" stroke="#1a1a1a" stroke-width="1"/>
<line x1="44.1" y1="102.38" x2="48.6" y2="102.38" stroke="#1a1a1a" stroke-width="1.1"/>
<text x="40.6" y="106.58" font-size="12.7" text-anchor="end">1420</text>
<line x1="46.1" y1="125.15" x2="48.6" y2="125.15" stroke="#1a1a1a" stroke-width="1"/>
<line x1="44.1" y1="147.92" x2="48.6" y2="147.92" stroke="#1a1a1a" stroke-width="1.1"/>
<text x="40.6" y="152.12" font-size="12.7" text-anchor="end">880</text>
<line x1="46.1" y1="170.69" x2="48.6" y2="170.69" stroke="#1a1a1a" stroke-width="1"/>
<line x1="44.1" y1="193.46" x2="48.6" y2="193.46" stroke="#1a1a1a" stroke-width="1.1"/>
<text x="40.6" y="197.66" font-size="12.7" text-anchor="end">340</text>
<line x1="46.1" y1="216.23" x2="48.6" y2="216.23" stroke="#1a1a1a" stroke-width="1"/>
<line x1="44.1" y1="239.00" x2="48.6" y2="239.00" stroke="#1a1a1a" stroke-width="1.1"/>
<text x="40.6" y="243.20" font-size="12.7" text-anchor="end">-200</text>
<line x1="48.60" y1="239.0" x2="48.60" y2="243.5" stroke="#1a1a1a" stroke-width="1.1"/>
<text x="48.60" y="256.0" font-size="12.7" text-anchor="middle">5</text>
<line x1="79.29" y1="239.0" x2="79.29" y2="241.5" stroke="#1a1a1a" stroke-width="1"/>
<line x1="109.98" y1="239.0" x2="109.98" y2="243.5" stroke="#1a1a1a" stroke-width="1.1"/>
<text x="109.98" y="256.0" font-size="12.7" text-anchor="middle">22</text>
<line x1="140.67" y1="239.0" x2="140.67" y2="241.5" stroke="#1a1a1a" stroke-width="1"/>
<line x1="171.36" y1="239.0" x2="171.36" y2="243.5" stroke="#1a1a1a" stroke-width="1.1"/>
<text x="171.36" y="256.0" font-size="12.7" text-anchor="middle">39</text>
<line x1="202.05" y1="239.0" x2="202.05" y2="241.5" stroke="#1a1a1a" stroke-width="1"/>
<line x1="232.74" y1="239.0" x2="232.74" y2="243.5" stroke="#1a1a1a" stroke-width="1.1"/>
<text x="232.74" y="256.0" font-size="12.7" text-anchor="middle">56</text>
<line x1="263.43" y1="239.0" x2="263.43" y2="241.5" stroke="#1a1a1a" stroke-width="1"/>
<line x1="294.12" y1="239.0" x2="294.12" y2="243.5" stroke="#1a1a1a" stroke-width="1.1"/>
<text x="294.12" y="256.0" font-size="12.7" text-anchor="middle">73</text>
<line x1="324.81" y1="239.0" x2="324.81" y2="241.5" stroke="#1a1a1a" stroke-width="1"/>
<line x1="355.50" y1="239.0" x2="355.50" y2="243.5" stroke="#1a1a1a" stroke-width="1.1"/>
<text x="355.50" y="256.0" font-size="12.7" text-anchor="middle">90</text>
<text font-size="12.7" text-anchor="middle" transform="translate(10.8,122.3) rotate(-90)">Intensity(a.u.)</text>
<text x="210.2" y="270.6" font-size="13.2" text-anchor="middle">2<tspan font-style="italic">θ</tspan> (°)</text>
<text x="58" y="31.2" font-size="16" text-anchor="start" >(a)</text>
<defs><radialGradient id="ab" cx="0.62" cy="0.62" r="0.65"><stop offset="0" stop-color="#e2f5cf"/><stop offset="0.5" stop-color="#b4e08f"/><stop offset="1" stop-color="#98d46c"/></radialGradient></defs>
<path d="M165.5,28.0 L169.3,31.8 L165.5,35.6 L161.7,31.8 Z" fill="#33ee5a"/>
<text x="180" y="35.6" font-size="12.7" text-anchor="start" >Quartz</text>
<path d="M165.90,46.10 L169.13,48.45 L167.90,52.25 L163.90,52.25 L162.67,48.45 Z" fill="#3bbcc2"/>
<text x="180" y="53.6" font-size="12.7" text-anchor="start" >Clinochlore</text>
<circle cx="165.6" cy="67.0" r="2.8" fill="#fdb515"/>
<text x="180" y="70.9" font-size="12.7" text-anchor="start" >Illite</text>
<circle cx="165.5" cy="82.7" r="2.7" fill="url(#ab)"/>
<text x="180" y="86.6" font-size="12.7" text-anchor="start" >Albite</text>
<path d="M274.2,24.5 L277.7,30.8 L270.7,30.8 Z" fill="#8a2cff"/>
<text x="288.5" y="32.0" font-size="12.7" text-anchor="start" >Kaolinite</text>
<rect x="271.7" y="45.8" width="5.0" height="5.0" fill="#b25f2e"/>
<text x="288.5" y="52.7" font-size="12.7" text-anchor="start" >Calcite</text>
<path d="M274.20,62.40 L275.21,65.11 L278.10,65.23 L275.84,67.03 L276.61,69.82 L274.20,68.22 L271.79,69.82 L272.56,67.03 L270.30,65.23 L273.19,65.11 Z" fill="#4a3a12"/>
<text x="288.5" y="70.6" font-size="12.7" text-anchor="start" >Muscovite</text>
<path d="M52.70,210.10 L55.93,212.45 L54.70,216.25 L50.70,216.25 L49.47,212.45 Z" fill="#3bbcc2"/>
<circle cx="62.3" cy="195.3" r="2.8" fill="#fdb515"/>
<path d="M62.30,197.10 L63.31,199.81 L66.20,199.93 L63.94,201.73 L64.71,204.52 L62.30,202.92 L59.89,204.52 L60.66,201.73 L58.40,199.93 L61.29,199.81 Z" fill="#4a3a12"/>
<path d="M75.4,194.6 L78.9,200.9 L71.9,200.9 Z" fill="#8a2cff"/>
<path d="M75.40,200.40 L78.63,202.75 L77.40,206.55 L73.40,206.55 L72.17,202.75 Z" fill="#3bbcc2"/>
<circle cx="94.4" cy="196.0" r="2.8" fill="#fdb515"/>
<path d="M94.40,197.90 L95.41,200.61 L98.30,200.73 L96.04,202.53 L96.81,205.32 L94.40,203.72 L91.99,205.32 L92.76,202.53 L90.50,200.73 L93.39,200.61 Z" fill="#4a3a12"/>
<path d="M98.30,208.60 L101.53,210.95 L100.30,214.75 L96.30,214.75 L95.07,210.95 Z" fill="#3bbcc2"/>
<path d="M105.7,186.8 L109.2,193.10000000000002 L102.2,193.10000000000002 Z" fill="#8a2cff"/>
<path d="M105.7,181.39999999999998 L109.5,185.2 L105.7,189.0 L101.9,185.2 Z" fill="#33ee5a"/>
<path d="M109.8,205.0 L111.6,208.24 L108.0,208.24 Z" fill="#8a2cff"/>
<circle cx="109.8" cy="210.0" r="2.7" fill="url(#ab)"/>
<path d="M122.2,172.3 L125.7,178.60000000000002 L118.7,178.60000000000002 Z" fill="#8a2cff"/>
<path d="M126.40,50.40 L127.41,53.11 L130.30,53.23 L128.04,55.03 L128.81,57.82 L126.40,56.22 L123.99,57.82 L124.76,55.03 L122.50,53.23 L125.39,53.11 Z" fill="#4a3a12"/>
<circle cx="126.4" cy="48.9" r="2.8" fill="#fdb515"/>
<path d="M126.4,39.7 L130.20000000000002,43.5 L126.4,47.3 L122.60000000000001,43.5 Z" fill="#33ee5a"/>
<circle cx="131.2" cy="191.6" r="2.8" fill="#fdb515"/>
<circle cx="131.2" cy="197.3" r="2.7" fill="url(#ab)"/>
<rect x="134.2" y="200.6" width="5.0" height="5.0" fill="#b25f2e"/>
<circle cx="136.7" cy="204.9" r="2.7" fill="url(#ab)"/>
<circle cx="143.1" cy="208.0" r="2.8" fill="#fdb515"/>
<path d="M156.60,195.20 L159.83,197.55 L158.60,201.35 L154.60,201.35 L153.37,197.55 Z" fill="#3bbcc2"/>
<path d="M156.40,197.50 L157.41,200.21 L160.30,200.33 L158.04,202.13 L158.81,204.92 L156.40,203.32 L153.99,204.92 L154.76,202.13 L152.50,200.33 L155.39,200.21 Z" fill="#4a3a12"/>
<circle cx="156.3" cy="207.6" r="2.7" fill="url(#ab)"/>
<circle cx="162.5" cy="202.6" r="2.8" fill="#fdb515"/>
<path d="M162.50,196.00 L165.73,198.35 L164.50,202.15 L160.50,202.15 L159.27,198.35 Z" fill="#3bbcc2"/>
<path d="M162.5,189.0 L166.3,192.8 L162.5,196.60000000000002 L158.7,192.8 Z" fill="#33ee5a"/>
<rect x="170.5" y="205.1" width="5.0" height="5.0" fill="#b25f2e"/>
<path d="M173.00,198.60 L176.23,200.95 L175.00,204.75 L171.00,204.75 L169.77,200.95 Z" fill="#3bbcc2"/>
<path d="M173.0,191.5 L176.8,195.3 L173.0,199.10000000000002 L169.2,195.3 Z" fill="#33ee5a"/>
<path d="M183.5,199.2 L187.3,203.0 L183.5,206.8 L179.7,203.0 Z" fill="#33ee5a"/>
<circle cx="183.4" cy="205.5" r="2.7" fill="url(#ab)"/>
<circle cx="194.3" cy="202.6" r="2.8" fill="#fdb515"/>
<path d="M194.3,195.3 L197.8,201.60000000000002 L190.8,201.60000000000002 Z" fill="#8a2cff"/>
<rect x="203.7" y="212.0" width="5.0" height="5.0" fill="#b25f2e"/>
<path d="M211.5,186.2 L215.3,190.0 L211.5,193.8 L207.7,190.0 Z" fill="#33ee5a"/>
<path d="M211.50,191.60 L214.73,193.95 L213.50,197.75 L209.50,197.75 L208.27,193.95 Z" fill="#3bbcc2"/>
<circle cx="211.5" cy="197.6" r="2.7" fill="url(#ab)"/>
<path d="M228.5,204.0 L232.3,207.8 L228.5,211.60000000000002 L224.7,207.8 Z" fill="#33ee5a"/>
<path d="M228.60,205.60 L229.61,208.31 L232.50,208.43 L230.24,210.23 L231.01,213.02 L228.60,211.42 L226.19,213.02 L226.96,210.23 L224.70,208.43 L227.59,208.31 Z" fill="#4a3a12"/>
<path d="M246.9,201.6 L250.70000000000002,205.4 L246.9,209.20000000000002 L243.1,205.4 Z" fill="#33ee5a"/>
<path d="M276.8,199.7 L280.6,203.5 L276.8,207.3 L273.0,203.5 Z" fill="#33ee5a"/>
<path d="M276.8,205.5 L280.3,211.8 L273.3,211.8 Z" fill="#8a2cff"/>
</svg></body></html>
